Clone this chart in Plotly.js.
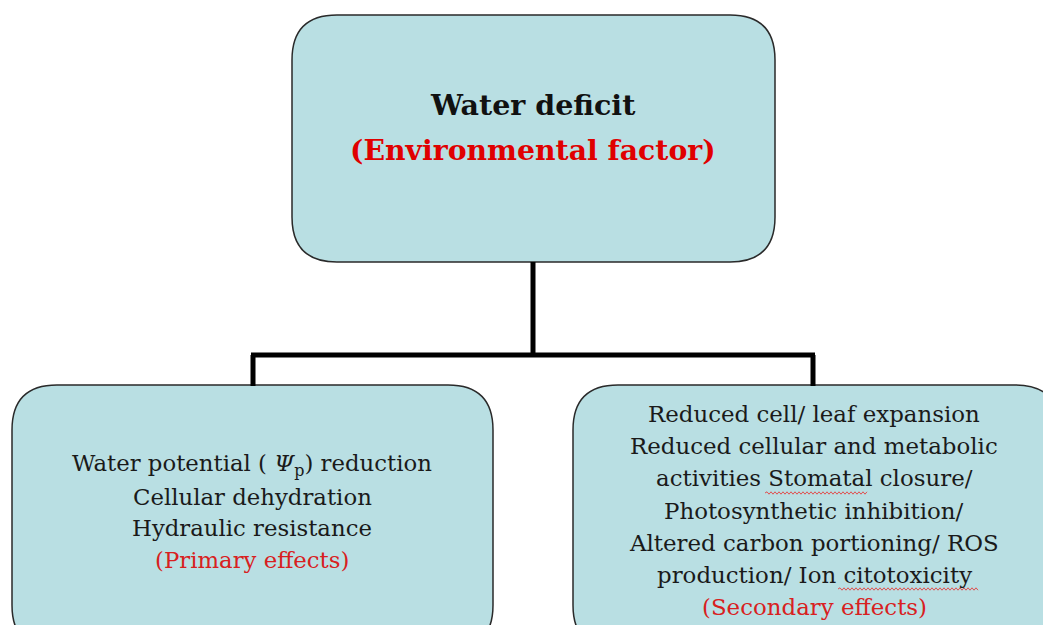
<!DOCTYPE html>
<html>
<head>
<meta charset="utf-8">
<script src="https://cdn.plot.ly/plotly-3.0.1.min.js"></script>
<style>html,body{margin:0;padding:0;background:#fff;}#chart{width:1043px;height:625px;}</style>
</head>
<body>
<div id="chart"></div>
<script>
// Diagram content
const topTitle = "Water deficit";
const topSubtitle = "(Environmental factor)";
const leftLines = ["Water potential ( <i>Ψ</i><sub>p</sub>) reduction", "Cellular dehydration", "Hydraulic resistance"];
const leftTag = "(Primary effects)";
const rightLines = ["Reduced cell/ leaf expansion", "Reduced cellular and metabolic", "activities Stomatal closure/", "Photosynthetic inhibition/", "Altered carbon portioning/ ROS", "production/ Ion citotoxicity"];
const rightTag = "(Secondary effects)";

// Layout geometry (pixels, y downward)
const boxes = [
  {x0: 292, x1: 775, y0: 15, y1: 262, r: 45},
  {x0: 12, x1: 493, y0: 385, y1: 650, r: 45},
  {x0: 573, x1: 1060, y0: 385, y1: 650, r: 45}
];
function roundRect(b) {
  const r = b.r;
  return `M ${b.x0 + r},${b.y0} L ${b.x1 - r},${b.y0} Q ${b.x1},${b.y0} ${b.x1},${b.y0 + r} ` +
         `L ${b.x1},${b.y1 - r} Q ${b.x1},${b.y1} ${b.x1 - r},${b.y1} L ${b.x0 + r},${b.y1} ` +
         `Q ${b.x0},${b.y1} ${b.x0},${b.y1 - r} L ${b.x0},${b.y0 + r} Q ${b.x0},${b.y0} ${b.x0 + r},${b.y0} Z`;
}
const fill = "#b9dfe3";
const shapes = boxes.map(b => ({type: "path", path: roundRect(b), xref: "x", yref: "y",
  fillcolor: fill, line: {color: "#2a2a2a", width: 1.5}, layer: "below"}));
const lw = 5;
const conn = [
  [533, 262, 533, 355], [251, 355, 815, 355], [253, 355, 253, 386], [813, 355, 813, 386]
];
conn.forEach(c => shapes.push({type: "line", x0: c[0], y0: c[1], x1: c[2], y1: c[3], xref: "x", yref: "y",
  line: {color: "#000", width: lw}}));

// spell-check style wavy underlines
function wavy(x0, x1, y) {
  let p = `M ${x0},${y}`;
  let up = true;
  for (let x = x0 + 2; x <= x1; x += 2) { p += ` L ${x},${y + (up ? -1.2 : 1.2)}`; up = !up; }
  return p;
}
[[765, 868, 493], [838, 978, 589]].forEach(w => shapes.push({type: "path", path: wavy(w[0], w[1], w[2]),
  xref: "x", yref: "y", line: {color: "#e05050", width: 1}}));

const serif = "DejaVu Serif, Liberation Serif, serif";
const ann = [];
function txt(text, x, y, size, color, bold) {
  ann.push({text: bold ? "<b>" + text + "</b>" : text, x: x, y: y, xref: "x", yref: "y",
    showarrow: false, xanchor: "center", yanchor: "middle",
    font: {family: serif, size: size, color: color}});
}
txt(topTitle, 533, 105, 28.5, "#111", true);
txt(topSubtitle, 533, 150, 28.3, "#e00000", true);
leftLines.forEach((t, i) => txt(t, 252, 465 + i * 31.5, 22.8, "#1a1a1a", false));
txt(leftTag, 252, 465 + leftLines.length * 31.5, 22.8, "#d82020", false);
rightLines.forEach((t, i) => txt(t, 814, 414 + i * 32.2, 22.9, "#1a1a1a", false));
txt(rightTag, 814, 414 + rightLines.length * 32.2, 22.9, "#d82020", false);

const layout = {
  width: 1043, height: 625,
  margin: {l: 0, r: 0, t: 0, b: 0},
  paper_bgcolor: "#fff", plot_bgcolor: "#fff",
  xaxis: {range: [0, 1043], visible: false, fixedrange: true},
  yaxis: {range: [625, 0], visible: false, fixedrange: true},
  shapes: shapes, annotations: ann, showlegend: false
};
Plotly.newPlot("chart", [], layout, {displayModeBar: false, staticPlot: true});
</script>
</body>
</html>
